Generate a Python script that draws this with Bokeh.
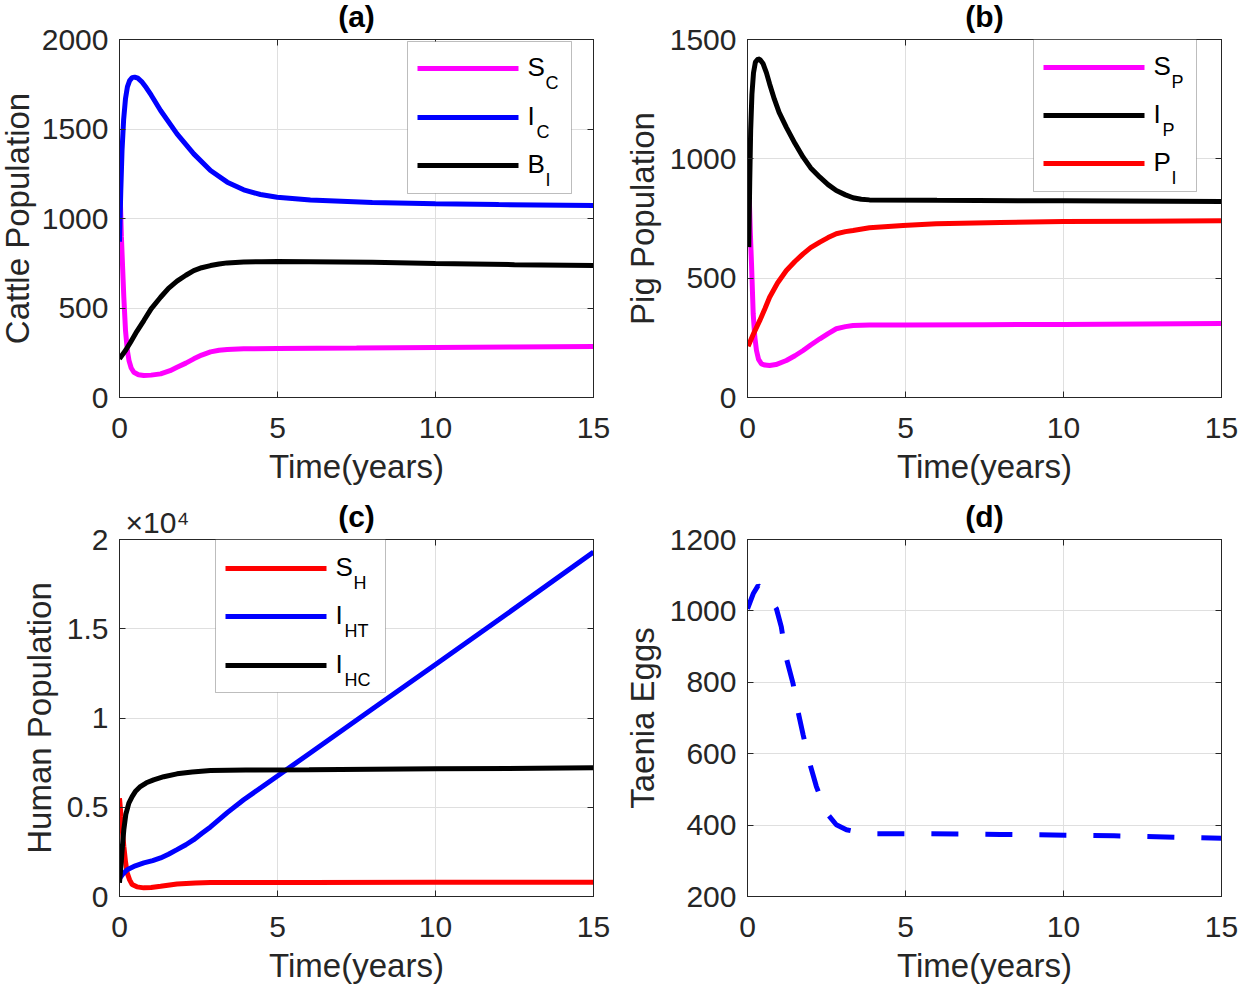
from bokeh.plotting import figure
from bokeh.models import FixedTicker, Label, BoxAnnotation, LinearAxis
from bokeh.layouts import column, row
from bokeh.embed import file_html
from bokeh.resources import INLINE

FONT = "Liberation Sans"
TXT = "#262626"
GRID = "#dfdfdf"
MAGENTA = "#ff00ff"
BLUE = "#0000ff"
BLACK = "#000000"
RED = "#ff0000"

# ---------------- data ----------------
x_ticks = [0, 5, 10, 15]

# (a) cattle
SC_t = [0, 0.03, 0.06, 0.10, 0.137, 0.19, 0.25, 0.30, 0.37, 0.454, 0.6, 0.77, 1.0, 1.3, 1.6, 1.82, 2.1, 2.35, 2.6, 2.88, 3.15, 3.41, 3.93, 5, 7.5, 10, 12.5, 15]
SC_v = [1250, 1080, 900, 720, 560, 374, 260, 207, 165, 141, 127, 123, 125, 132, 150, 169, 192, 216, 237, 255, 264, 268, 272, 274, 276, 279, 282, 285]
IC_t = [0, 0.04, 0.08, 0.13, 0.19, 0.25, 0.32, 0.40, 0.48, 0.58, 0.7, 0.85, 1.0, 1.30, 1.82, 2.35, 2.88, 3.41, 3.93, 4.46, 4.99, 6.04, 8, 10, 12, 15]
IC_v = [870, 1150, 1380, 1550, 1670, 1735, 1770, 1787, 1790, 1784, 1765, 1730, 1690, 1603, 1473, 1361, 1268, 1203, 1160, 1134, 1119, 1104, 1090, 1083, 1078, 1072]
BI_t = [0, 0.2, 0.35, 0.55, 0.77, 1.0, 1.30, 1.55, 1.82, 2.1, 2.35, 2.6, 2.88, 3.15, 3.41, 3.93, 4.5, 5, 6, 8, 10, 12.5, 15]
BI_v = [216, 265, 309, 370, 430, 495, 560, 610, 650, 683, 709, 725, 737, 746, 752, 757, 759, 760, 759, 755, 748, 742, 737]
a_yticks = [0, 500, 1000, 1500, 2000]

# (b) pigs
SP_t = [0, 0.03, 0.06, 0.09, 0.127, 0.18, 0.23, 0.284, 0.35, 0.442, 0.55, 0.70, 0.9, 1.23, 1.5, 1.76, 2.0, 2.29, 2.55, 2.81, 3.1, 3.34, 3.86, 5, 7.5, 10, 12.5, 15]
SP_v = [1063, 950, 820, 690, 560, 351, 255, 197, 160, 141, 136, 134, 138, 155, 175, 197, 220, 246, 268, 288, 297, 302, 304, 304, 305, 306, 308, 310]
IP_t = [0.04, 0.07, 0.10, 0.14, 0.19, 0.25, 0.337, 0.40, 0.495, 0.6, 0.70, 0.85, 1.0, 1.23, 1.5, 1.76, 2.0, 2.29, 2.55, 2.81, 3.1, 3.34, 3.6, 3.86, 6, 10, 15]
IP_v = [630, 900, 1120, 1270, 1360, 1405, 1419, 1415, 1398, 1360, 1314, 1250, 1195, 1132, 1065, 1007, 962, 923, 892, 867, 849, 837, 831, 828, 826, 824, 821]
PI_t = [0.02, 0.2, 0.39, 0.55, 0.70, 0.95, 1.23, 1.5, 1.76, 2.0, 2.29, 2.55, 2.81, 3.1, 3.34, 3.86, 4.92, 5.97, 8, 10, 12.5, 15]
PI_v = [215, 270, 323, 372, 420, 480, 532, 570, 602, 628, 651, 670, 686, 695, 700, 711, 721, 728, 733, 737, 739, 741]
b_yticks = [0, 500, 1000, 1500]

# (c) humans
SH_t = [0, 0.05, 0.1, 0.137, 0.19, 0.243, 0.32, 0.40, 0.55, 0.77, 1.0, 1.30, 1.82, 2.4, 2.88, 6, 10, 15]
SH_v = [5510, 4500, 3500, 2810, 1950, 1320, 930, 670, 540, 484, 510, 577, 700, 760, 780, 790, 795, 800]
IHT_t = [0, 0.1, 0.243, 0.5, 0.77, 1.05, 1.30, 1.55, 1.82, 2.1, 2.35, 2.6, 2.88, 3.41, 3.93, 4.46, 5.0, 6, 8, 10, 12, 15]
IHT_v = [1000, 1250, 1500, 1720, 1880, 2010, 2160, 2370, 2626, 2900, 3184, 3530, 3900, 4700, 5420, 6080, 6750, 8000, 10500, 13000, 15500, 19300]
IHC_t = [0, 0.05, 0.1, 0.137, 0.2, 0.296, 0.4, 0.5, 0.66, 0.85, 1.08, 1.4, 1.82, 2.3, 2.88, 4, 6, 10, 15]
IHC_v = [763, 1800, 3000, 3743, 4600, 5233, 5600, 5880, 6162, 6370, 6536, 6710, 6872, 6980, 7056, 7080, 7095, 7150, 7207]
c_yticks = [0, 5000, 10000, 15000, 20000]
c_ylabels = ["0", "0.5", "1", "1.5", "2"]
c_exponent = "\u00d710\u2074"

# (d) eggs
E_t = [0, 0.18, 0.337, 0.6, 0.916, 1.07, 1.23, 1.44, 1.60, 1.76, 1.97, 2.18, 2.50, 2.81, 3.13, 3.5, 4.07, 5.76, 8, 11.6, 15]
E_v = [1006, 1048, 1071, 1050, 1006, 955, 867, 797, 718, 653, 573, 508, 434, 401, 387, 380, 376, 376, 374, 370, 363]
d_yticks = [200, 400, 600, 800, 1000, 1200]


def make_panel(yr, yticks, ylabel, title, size, borders, ylabels=None, exponent=None, ylab_standoff=6):
    w, h = size
    l, r, t, b = borders
    p = figure(width=w, height=h, x_range=(0, 15), y_range=yr,
               output_backend="svg", toolbar_location=None,
               min_border_left=l, min_border_right=r, min_border_top=t, min_border_bottom=b,
               background_fill_color="white", border_fill_color="white")
    p.outline_line_color = TXT
    p.outline_line_width = 1
    p.xaxis.ticker = FixedTicker(ticks=x_ticks)
    p.yaxis.ticker = FixedTicker(ticks=yticks)
    if ylabels is not None:
        p.yaxis.major_label_overrides = {v: s for v, s in zip(yticks, ylabels)}
    for ax in (p.xaxis[0], p.yaxis[0]):
        ax.axis_line_color = TXT
        ax.major_tick_line_color = TXT
        ax.major_tick_in = 6
        ax.major_tick_out = 0
        ax.minor_tick_line_color = None
        ax.major_label_text_font = FONT
        ax.major_label_text_font_size = "30px"
        ax.major_label_text_color = TXT
        ax.axis_label_text_font = FONT
        ax.axis_label_text_font_size = "33px"
        ax.axis_label_text_font_style = "normal"
        ax.axis_label_text_color = TXT
    p.xaxis.axis_label = "Time(years)"
    p.yaxis.axis_label = ylabel
    p.xaxis.major_label_standoff = 20
    p.yaxis.major_label_standoff = 11
    p.xaxis.axis_label_standoff = 7
    p.yaxis.axis_label_standoff = ylab_standoff

    # top axis: box ticks (as minor ticks) + panel title as its label
    if exponent is None:
        top_ticker = FixedTicker(ticks=[], minor_ticks=x_ticks)
    else:
        top_ticker = FixedTicker(ticks=[1.2], minor_ticks=x_ticks)
    top = LinearAxis(ticker=top_ticker, major_tick_in=0, major_tick_out=0,
                     minor_tick_in=6, minor_tick_out=0, minor_tick_line_color=TXT,
                     major_tick_line_color=None, axis_line_color=TXT,
                     axis_label=title, axis_label_text_font=FONT,
                     axis_label_text_font_size="30px", axis_label_text_font_style="bold",
                     axis_label_text_color=BLACK, axis_label_standoff=7)
    if exponent is not None:
        top.major_label_overrides = {1.2: exponent}
        top.major_label_text_font = FONT
        top.major_label_text_font_size = "30px"
        top.major_label_text_color = TXT
        top.major_label_standoff = 1
        top.axis_label_standoff = -30
    p.add_layout(top, "above")
    right = LinearAxis(ticker=FixedTicker(ticks=[], minor_ticks=yticks),
                       major_tick_in=0, major_tick_out=0,
                       minor_tick_in=6, minor_tick_out=0, minor_tick_line_color=TXT,
                       major_tick_line_color=None, axis_line_color=TXT)
    p.add_layout(right, "right")
    p.xgrid.grid_line_color = GRID
    p.ygrid.grid_line_color = GRID
    p.xgrid.grid_line_width = 1
    p.ygrid.grid_line_width = 1
    return p


def add_legend(p, fh, box, entries):
    # box: (left, right, top, bottom) in px from frame left / frame top
    bl, br, bt, bb = box
    p.add_layout(BoxAnnotation(left=bl, right=br, top=fh - bt, bottom=fh - bb,
                               left_units="screen", right_units="screen",
                               top_units="screen", bottom_units="screen",
                               fill_color="white", fill_alpha=1.0,
                               line_color=TXT, line_width=1, level="annotation"))
    for (yc, color, main, sub, sub_dx) in entries:
        p.add_layout(BoxAnnotation(left=bl + 10, right=bl + 111, top=fh - yc + 2.5, bottom=fh - yc - 2.5,
                                   left_units="screen", right_units="screen",
                                   top_units="screen", bottom_units="screen",
                                   fill_color=color, fill_alpha=1.0, line_color=None,
                                   level="annotation"))
        p.add_layout(Label(x=bl + 120, y=fh - yc + 2, x_units="screen", y_units="screen",
                           text=main, text_font=FONT, text_font_size="26px", text_color=BLACK,
                           text_align="left", text_baseline="alphabetic"))
        p.add_layout(Label(x=bl + 120 + sub_dx, y=fh - yc - 14, x_units="screen", y_units="screen",
                           text=sub, text_font=FONT, text_font_size="18px", text_color=BLACK,
                           text_align="left", text_baseline="alphabetic"))


LW = 5

pa = make_panel((0, 2000), a_yticks, "Cattle Population", "(a)", (628, 495), (127, 27, 44, 93),
                ylab_standoff=3)
pa.line(SC_t, SC_v, color=MAGENTA, line_width=LW)
pa.line(IC_t, IC_v, color=BLUE, line_width=LW)
pa.line(BI_t, BI_v, color=BLACK, line_width=LW)
add_legend(pa, 358, (288, 452, 2, 154),
           [(29, MAGENTA, "S", "C", 18), (78, BLUE, "I", "C", 9), (126, BLACK, "B", "I", 18)])

pb = make_panel((0, 1500), b_yticks, "Pig Population", "(b)", (618, 495), (126, 17, 44, 93))
pb.line(SP_t, SP_v, color=MAGENTA, line_width=LW)
pb.line(IP_t, IP_v, color=BLACK, line_width=LW)
pb.line(PI_t, PI_v, color=RED, line_width=LW)
add_legend(pb, 358, (286, 449, 0, 152),
           [(28, MAGENTA, "S", "P", 18), (76, BLACK, "I", "P", 9), (124, RED, "P", "I", 18)])

pc = make_panel((0, 20000), c_yticks, "Human Population", "(c)", (620, 496), (119, 27, 49, 89),
                ylabels=c_ylabels, exponent=c_exponent)
pc.line(SH_t, SH_v, color=RED, line_width=LW)
pc.line(IHT_t, IHT_v, color=BLUE, line_width=LW)
pc.line(IHC_t, IHC_v, color=BLACK, line_width=LW)
add_legend(pc, 358, (96, 266, 1, 154),
           [(30, RED, "S", "H", 18), (78, BLUE, "I", "HT", 9), (127, BLACK, "I", "HC", 9)])

pd = make_panel((200, 1200), d_yticks, "Taenia Eggs", "(d)", (618, 496), (126, 17, 49, 89))
pd.line(E_t, E_v, color=BLUE, line_width=LW, line_dash="27 27")

layout = column(row(pa, pb, margin=(-5, 0, 0, -8)), row(pc, pd))

open("out.html", "w").write(file_html(layout, INLINE))
